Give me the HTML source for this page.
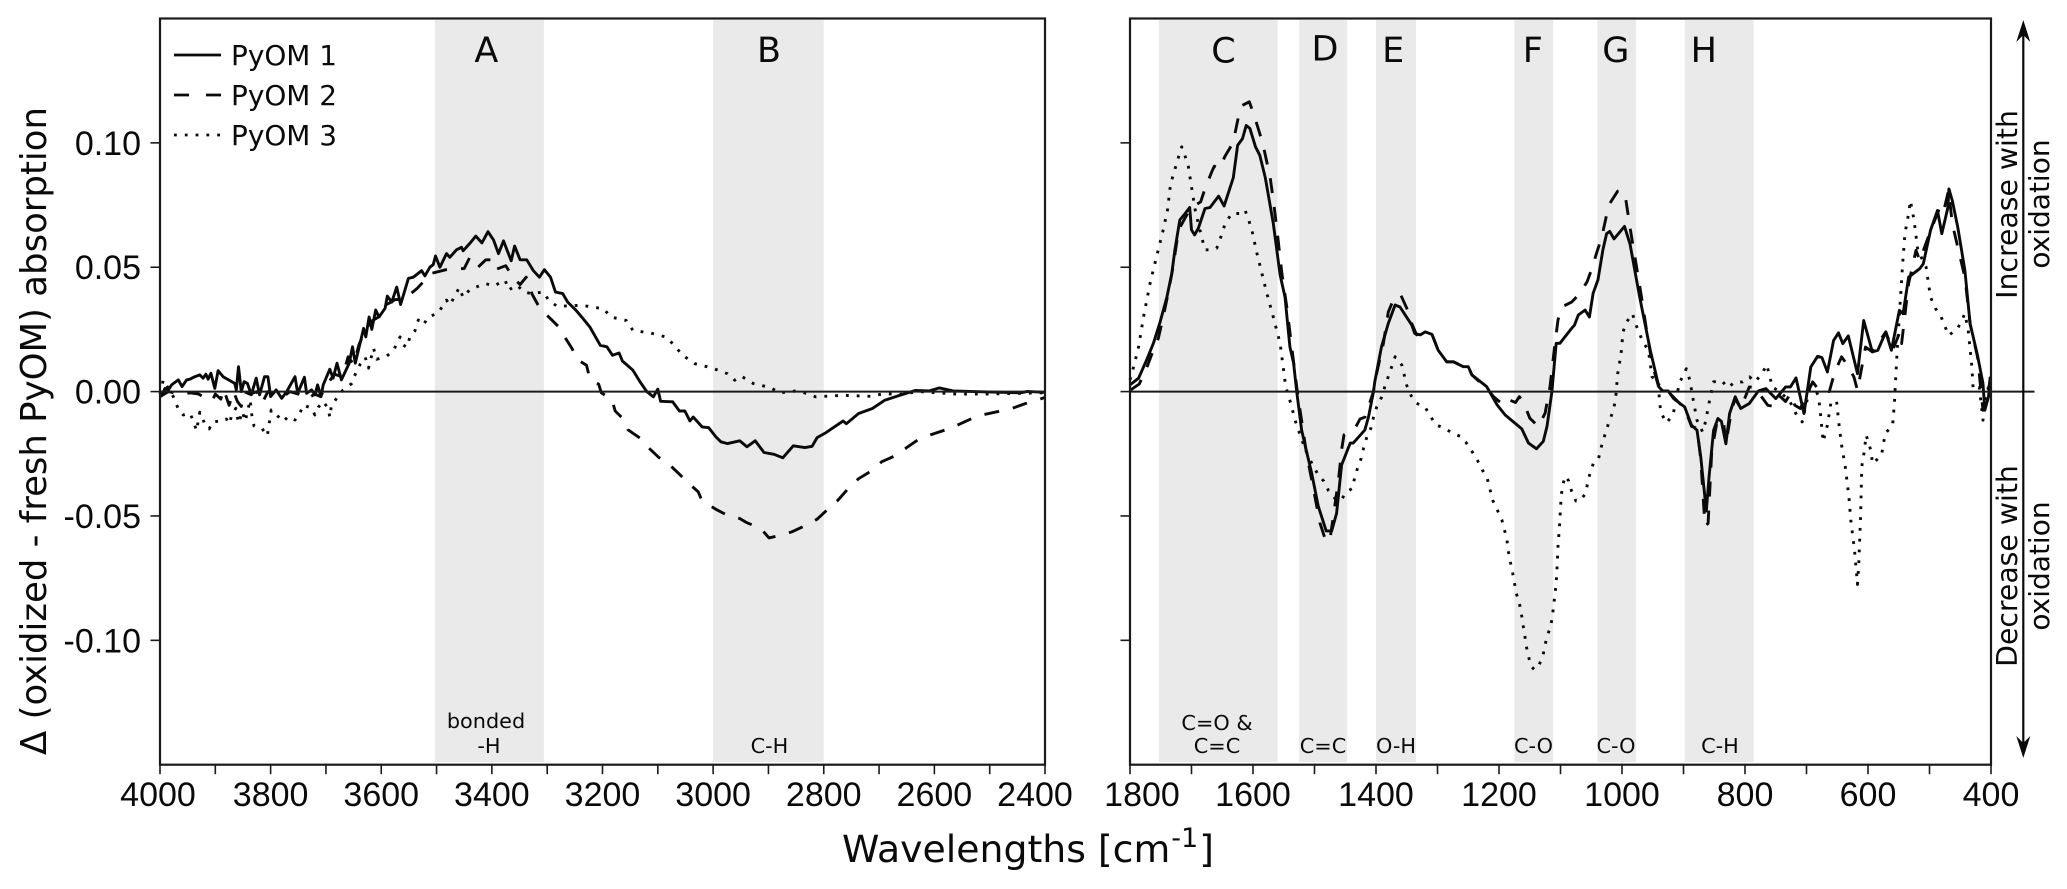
<!DOCTYPE html>
<html lang="en">
<head>
<meta charset="utf-8">
<title>PyOM oxidation difference spectra</title>
<style>
html,body{margin:0;padding:0;background:#fff;}
svg{display:block;}
text{fill:#0a0a0a;}
.dv{font-family:"DejaVu Sans","Liberation Sans",sans-serif;}
.ls{font-family:"Liberation Sans",sans-serif;}
</style>
</head>
<body>
<svg id="chart" xmlns="http://www.w3.org/2000/svg" width="2067" height="889" viewBox="0 0 2067 889">
  <g id="bands"></g>
  <g id="series"></g>
  <g id="axes"></g>

  <text class="dv" font-size="35.5" text-anchor="middle" transform="translate(46,431) rotate(-90)">Δ (oxidized - fresh PyOM) absorption</text>
  <text class="dv" font-size="37.8" x="842" y="862">Wavelengths [cm<tspan dy="-15" dx="1" font-size="27">-1</tspan><tspan dy="15" dx="1">]</tspan></text>

  <g>
    <line x1="174" x2="221" y1="55" y2="55" stroke="#0a0a0a" stroke-width="2.8"/>
    <text class="dv" font-size="27.9" x="231" y="65">PyOM 1</text>
    <line x1="174" x2="221" y1="95" y2="95" stroke="#0a0a0a" stroke-width="2.8" stroke-dasharray="15 17"/>
    <text class="dv" font-size="27.9" x="231" y="105">PyOM 2</text>
    <line x1="174" x2="221" y1="135" y2="135" stroke="#0a0a0a" stroke-width="2.8" stroke-dasharray="2.8 8"/>
    <text class="dv" font-size="27.9" x="231" y="145">PyOM 3</text>
  </g>

  <g>
    <line x1="2023.3" x2="2023.3" y1="34" y2="745" stroke="#0a0a0a" stroke-width="2.2"/>
    <polygon points="2023.3,20 2030.3,42 2023.3,35 2016.3,42" fill="#0a0a0a"/>
    <polygon points="2023.3,758 2030.3,736 2023.3,743 2016.3,736" fill="#0a0a0a"/>
    <text class="dv" font-size="28.3" text-anchor="middle" transform="translate(2017,204.5) rotate(-90)">Increase with</text>
    <text class="dv" font-size="28" text-anchor="middle" transform="translate(2049,204) rotate(-90)">oxidation</text>
    <text class="dv" font-size="28.3" text-anchor="middle" transform="translate(2017,566) rotate(-90)">Decrease with</text>
    <text class="dv" font-size="28" text-anchor="middle" transform="translate(2049,566) rotate(-90)">oxidation</text>
  </g>
</svg>

<script>
// ---- chart data (wavenumber in cm-1, absorption difference x 1000) ----
const yTickValues = [0.10, 0.05, 0, -0.05, -0.10];
const yTickLabels = ["0.10", "0.05", "0.00", "-0.05", "-0.10"];
const leftXTickLabels = [4000, 3800, 3600, 3400, 3200, 3000, 2800, 2600, 2400];
const leftXMinorTicks = [3900, 3700, 3500, 3300, 3100, 2900, 2700, 2500];
const rightXTickLabels = [1800, 1600, 1400, 1200, 1000, 800, 600, 400];
const rightXMinorTicks = [1700, 1500, 1300, 1100, 900, 700, 500];

const leftBandStart = [3503, 3000];
const leftBandEnd = [3306, 2800];
const rightBandStart = [1753, 1525, 1400, 1175, 1040, 898];
const rightBandEnd = [1560, 1447, 1335, 1112, 977, 786];

const leftPyom1Wn = [3998,3991,3985,3979,3967,3960,3952,3946,3937,3928,3922,3917,3913,3908,3901,3895,3886,3865,3862,3858,3853,3848,3842,3835,3826,3820,3811,3805,3800,3790,3780,3771,3756,3751,3739,3735,3726,3720,3715,3709,3705,3693,3687,3680,3672,3658,3652,3647,3632,3628,3622,3617,3610,3604,3593,3589,3581,3572,3565,3551,3542,3527,3521,3512,3506,3502,3494,3482,3476,3464,3455,3452,3440,3429,3418,3407,3397,3388,3379,3365,3359,3349,3337,3325,3314,3305,3294,3285,3272,3263,3248,3235,3223,3204,3192,3182,3170,3164,3145,3132,3120,3108,3100,3095,3073,3061,3051,3042,3036,3020,3008,2995,2986,2974,2952,2939,2924,2908,2890,2874,2855,2834,2821,2812,2796,2765,2759,2737,2712,2690,2665,2634,2609,2591,2566,2529,2479,2444,2432,2401];
const leftPyom1Val = [-2,1.3,0.7,2.7,4.7,2,4.7,5,6,6.7,5.4,7,5,7.4,1.3,8.4,6,3.3,0.7,10,0,4,3.3,-1.3,5.4,-1.3,6,6,-2,0.7,-2.7,0,6,-0.7,5.8,-0.7,0.7,-1.3,2.7,-2,2.7,9,5.4,11.4,4.7,11.4,18,11.4,25.4,22,30,25,32.8,30,33.5,38.4,36,42,35,45.5,46,48.6,46.5,50,51,54.5,50,55.5,54,57,58,56.6,59.6,62.5,59.8,64.3,61,55.5,60.6,52.6,58.5,53,53,48.6,46,49,46,40,39.4,36,32.7,29.3,26,18.6,18,14.6,15.5,12.3,8.6,3.9,0,-2.1,1,-3.9,-4.1,-7.8,-7.8,-11.8,-10.2,-14.2,-14.5,-18.2,-20.2,-20.9,-19.8,-22.2,-19.8,-24.5,-25.2,-26.6,-21.8,-22.5,-22,-18.5,-16.5,-11.8,-12.9,-8.8,-6.8,-3.5,-1.7,0.5,0.3,1.5,0.3,0,-0.3,-0.5,0.1,-0.3];

const leftPyom2Wn = [4000,3985,3975,3958,3945,3930,3915,3905,3900,3890,3885,3875,3867,3860,3853,3848,3838,3825,3815,3805,3795,3780,3765,3750,3735,3720,3710,3700,3685,3670,3660,3650,3640,3630,3620,3605,3590,3575,3560,3535,3510,3483,3450,3440,3425,3411,3400,3394,3375,3362,3349,3338,3327,3317,3307,3294,3279,3269,3255,3246,3229,3223,3207,3202,3183,3177,3160,3154,3131,3117,3098,3081,3061,3045,3027,3020,2995,2977,2952,2939,2914,2899,2877,2858,2832,2812,2791,2774,2753,2737,2714,2695,2669,2650,2628,2606,2579,2559,2532,2510,2482,2460,2435,2410,2401];
const leftPyom2Val = [-2,0,-0.5,-1,-0.5,-1,-3,-3.5,-1,-3,1,-5.5,0,-4,-6,0,-1,0,-4.5,0,-1,-2.5,0,-1,-3,-1,-2,2,7,6,14,11,19,24,28,30,35,37,37,41.5,47.5,49,49.5,54,50,53,53,49,50.6,46,43,46,39,35,32,29.3,26,22.2,17.3,12.9,10.6,5.2,3,-0.5,-3.2,-7.8,-11.5,-15.3,-18.9,-22.5,-26.5,-28.9,-33.2,-36.7,-40.3,-44,-47.3,-49.4,-51,-52.7,-55,-58.8,-57.7,-56.4,-53.7,-51.3,-47,-43.6,-38.3,-35,-31.9,-28.2,-25.6,-22.5,-19.1,-17.3,-15.3,-13.5,-10.8,-9.2,-7.9,-6.8,-4.8,-3.1,-2.4];

const leftPyom3Wn = [4000,3994,3976,3967,3958,3946,3940,3934,3928,3919,3911,3904,3888,3880,3875,3870,3863,3858,3851,3846,3837,3834,3830,3816,3806,3799,3785,3777,3768,3756,3747,3741,3726,3720,3714,3705,3696,3693,3690,3678,3670,3653,3649,3638,3629,3623,3614,3608,3590,3578,3566,3560,3554,3548,3539,3533,3524,3515,3497,3482,3476,3467,3459,3452,3440,3412,3397,3376,3370,3355,3340,3328,3307,3297,3282,3238,3198,3185,3157,3145,3114,3086,3073,3055,3033,3002,2974,2961,2949,2927,2896,2880,2849,2830,2815,2765,2715,2690,2665,2628,2560,2510,2401];
const leftPyom3Val = [-1,4.7,-2,-7,-9.4,-8.7,-11.6,-15.7,-8.3,-13,-15,-12,-12,-11,-13,-9.4,-6.7,-12.7,-8,-12,-3.3,-9.4,-13.8,-14.7,-17.8,-7.4,-10.3,-12,-10,-11.4,-8.7,-5.4,-6.7,-9.4,-6.3,-4,-6.7,-10.3,-5.4,-2,0.4,3.3,6,11,13.8,9.4,17.4,13,14.3,16.5,22,18.7,17.8,22,24.5,28.8,26.8,29.9,31.7,36.8,34.8,38.4,41.8,37.9,41,43.5,42.4,44.8,40.8,42.8,39.8,39.5,40,36.7,34.3,34.7,33.3,30,28.6,24.6,23.6,22,19.3,14.6,11.2,9.5,7.2,4.6,6.2,3.2,1.6,-0.5,0.3,-0.8,-2.1,-1.5,-1.9,-0.8,-1.2,0,-1,-1,-0.5];

const rightPyom1Wn = [1800,1786,1773,1762,1751,1740,1732,1727,1719,1711,1703,1700,1695,1689,1678,1670,1656,1647,1632,1625,1617,1611,1605,1596,1589,1580,1567,1556,1548,1540,1534,1529,1521,1513,1504.5,1494,1481,1472,1464,1456,1442,1437,1418,1412,1404,1402,1391,1380,1369,1361,1342,1337,1328,1320,1309,1299,1285,1274,1258,1250,1244,1220,1203,1190,1163,1152,1139,1128,1122,1114,1107,1101,1082,1077,1071,1060,1053,1047,1039,1031,1025,1020,1013,996,987,972,954,940,934,925,916,898,887,878,872,863,858.4,851,844,838.4,831,825,816,807,793,778,766,750,734,726,717,704,693,682,675,666,656,648,641,632,617,607,593,584,571,562,549,543,534,516,510,498.4,487,480,470,468.4,463,454,442.5,434,422,413,410,404,401];
const rightPyom1Val = [2.7,5.4,12.7,19.4,28,38,47.5,57,69,71.4,74,65,63,65.6,73.6,74,78.6,74.6,86,99,101.7,107,105.8,98.4,95,86,67.6,46.9,38,18,11.4,0,-15.4,-24,-32.8,-46,-56,-56,-48.9,-29.5,-20.7,-20.7,-15.4,-10,0,4,18,27.4,34.8,34,26.8,23.4,22.8,24,23,16.7,12,12,10,10,6.7,2,-5.4,-9.4,-15,-20.7,-23,-20,-14,0,19.4,19.4,25.4,26.8,30.8,32.8,30,39.5,45,57,63.5,64.4,61.4,66.4,59.4,39,16.6,1.9,0.3,0.3,-2.8,-6.2,-13.5,-15.5,-26,-48,-34,-15.5,-10.8,-12,-21,-8.8,-2.1,-6.8,-4.8,0.3,1.2,-2.8,1.9,1.9,5.5,-8.8,9.9,14.2,13.7,7.9,20.6,23.6,19.3,22.4,7.2,28.6,16,16.6,24,16.6,32.7,31.3,46,49.4,51.4,64.8,72.8,63.5,74,81.5,76.8,66,48.7,27.3,14.6,3.2,-7.5,-2.1,5.9];

const rightPyom2Wn = [1799,1785,1773,1765,1754,1746,1738,1730,1721,1702,1685,1678,1667,1663,1654,1646,1635,1631,1624,1618,1606,1598,1589,1583,1572,1567,1561,1553,1545,1537,1529,1526,1513,1504.5,1491,1481,1474,1461,1456,1452,1434,1426,1418,1404,1402,1388,1380,1372,1360,1350,1342,1334,1326,1309,1299,1285,1274,1258,1250,1244,1220,1209,1196,1190,1173,1167,1160,1150,1136,1125,1117,1109,1104,1098,1082,1071,1057,1049,1041,1033,1025,1022,1007,1001,994,987,978,969,960,951,942,925,898,887,878,872,865,860,854,845,835,831,822,816,807,793,784,763,754,745,734,726,719,710,690,678,663,657,648,643,635,623,617,604,593,584,571,560,548,545.4,534,522,516,498,484,478,469,463,454,442.5,434,422,413,409,404,401];
const rightPyom2Val = [0.7,3,9.4,14.7,21.4,30,39.5,50,65,73.6,76.3,81.6,88.4,90.6,89.7,94.4,99,101.7,110,115,116.5,111,103.7,98.4,86,77,65,47.5,34,18,2,-3.3,-24.8,-35.5,-52.9,-60.5,-58,-35.5,-23.4,-17.4,-14.7,-11,-10.3,0,4,19.4,32,36.8,39,33.5,27.4,22.8,23.4,23,16.7,12,12,10,10,6.7,1.3,-2,-4.7,-2.7,-4.4,-2,-4.4,-10.7,-14,-8.7,2,19.4,28.8,34,36,38.8,44,49.5,56,62,71,74.8,80.6,81,77.5,66,52.7,39,24.6,11.2,3.2,0,-6.8,-14,-14.7,-27,-54,-53,-23.6,-11.5,-12,-21,-7.5,-2.8,-6.8,1.9,1.6,-5.5,-5.9,-1.5,-4,-0.8,-5.5,-6.8,3.9,0,0,5.2,11.2,14,11.2,5.9,0.5,17.9,16,19.3,24,16.6,24,19.3,43.4,56.8,52.7,64.8,73.5,71.5,80.9,67.5,58,46,27.3,14,-7.5,-4.8,0.5,5.9];

const rightPyom3Wn = [1800,1794,1786,1778,1767,1757,1751,1746,1739,1735,1731,1721,1716,1710,1705,1700,1694,1689,1683,1678,1670,1659,1651,1646,1635,1621,1613,1607,1602,1594,1586,1578,1567,1556,1547,1542,1537,1533,1528,1522,1515,1503,1494,1485,1477,1466.5,1457,1449,1438,1435,1430,1424,1420,1415,1408,1404,1399,1391,1386,1369,1358,1350,1343,1334,1320,1312,1303,1290,1277,1263,1253.5,1244,1235,1227,1219,1214.5,1210,1203,1195.5,1191,1187,1185,1182,1178,1175,1172,1167,1163.5,1161,1158,1156,1152,1148,1142.4,1136,1129,1125.6,1122,1116,1113,1111,1109,1107,1106,1105,1104.5,1103.4,1102,1100,1099,1097,1092.5,1086.6,1082,1075,1068,1060,1056,1052,1046.5,1038,1034,1029,1024,1018,1013,1010,1007,1001.4,998.4,992.5,983,978,966,957,951.3,942,937,928,917,907,895.5,889.6,884,878,869,864,857,851.4,838.4,828,816,804,792.5,784,772,765,760,756,745.5,728,716,707,692.5,681,678,673,666,660,651,647,643,637,631,628,622,617,615,612,610,607,603,595.5,592.5,578,572,560,557,555.5,552.5,548.4,544,540,534,531,525,519,505.5,498.4,490,481,469,454.3,442.5,437,431,429,419,413,407,401];
const rightPyom3Val = [4.7,10,18,30,44,54,60,65,73,81.7,86,94.4,98.4,94.4,90.4,82.3,73,67.6,61.6,57,57,57.6,63,67,71.6,71.6,73,69,65,56,48,40,30,19.4,2.3,-2,-6,-10.3,-14.3,-18.3,-23.4,-29.5,-33.5,-36,-39.9,-43,-43.8,-40.6,-38.8,-34.8,-30.8,-26.8,-22.5,-18.3,-14.5,-10.3,-6.3,-2.3,1.7,14,10.7,2.4,-1.6,-4.7,-6.3,-9.6,-13.4,-14.5,-16.5,-18,-20.5,-24,-27.7,-31.5,-35,-39.5,-43.8,-47.5,-51.5,-55.6,-59.8,-64,-68,-72.6,-76.7,-81,-85,-89.4,-93.7,-98,-102,-106.4,-110.4,-111.8,-110.4,-106.7,-102.4,-98.4,-94.4,-90,-85.7,-81.4,-77,-72.7,-68.5,-64,-59.8,-55.6,-46.9,-42.6,-38.4,-34,-35.9,-40,-44,-43.8,-41.2,-37,-32.8,-28.8,-26.8,-22.5,-18.3,-14.3,-10.3,-6.3,-2,7.2,15.3,24,28,31.3,27.3,20,16.6,5.9,4.5,-8.2,-12.6,-9.5,3.2,9.2,4.5,-3.5,-11.5,-16.2,-12,-2.8,3.9,4.5,1.6,3.9,3.9,5.9,3.9,7.2,10.8,6.6,1.9,0.3,-3.5,-9.5,-12.2,3.9,-1.5,-6.8,-20.2,-13.5,-4,-4,-13.5,-21.6,-30,-42.3,-51.7,-63.7,-77.5,-69,-50,-30,-25.6,-17.5,-23.6,-29,-25.6,-16.9,-13.5,-4.8,3.2,16.6,32.7,50,63.5,71.5,76.8,68.8,56.8,50,38,33.3,30,22.6,25.3,31.3,24.6,9.9,0.8,1.6,-11.5,-1.5,5.9];

// ---- axis functions ----
const plotTop = 18.5, plotBottom = 764.7;
const leftX0 = 160, leftX1 = 1045, rightX0 = 1130, rightX1 = 1991;
function xLeft(wn) { return leftX0 + (4000 - wn) / 1600 * (leftX1 - leftX0); }
function xRight(wn) { return rightX0 + (1800 - wn) / 1400 * (rightX1 - rightX0); }
function yScale(v) { return (plotTop + plotBottom) / 2 - v / 0.15 * (plotBottom - plotTop) / 2; }
function yMilli(v) { return yScale(v / 1000); }

const NS = "http://www.w3.org/2000/svg";
const bandsLayer = document.getElementById("bands");
const seriesLayer = document.getElementById("series");
const axesLayer = document.getElementById("axes");

function make(tag, parent, attrs) {
  const el = document.createElementNS(NS, tag);
  for (const k in attrs) el.setAttribute(k, attrs[k]);
  parent.appendChild(el);
  return el;
}

// ---- shaded bands ----
function drawBands(starts, ends, xf) {
  starts.forEach(function (s, i) {
    const x0 = xf(s), x1 = xf(ends[i]);
    const r = make("rect", bandsLayer, { x: x0, y: 20, width: x1 - x0, height: 742, fill: "#eaeaea" });
    
    
  });
}
drawBands(leftBandStart, leftBandEnd, xLeft);
drawBands(rightBandStart, rightBandEnd, xRight);

// ---- band letters and group labels ----
const bandLetters = ["A", "B", "C", "D", "E", "F", "G", "H"];
const bandLetterBaselines = [62, 62, 62.7, 60.7, 62, 62, 62, 62];
const bandLetterWn = [3410, 2899, 1648, 1483, 1372, 1145, 1010, 867];
bandLetters.forEach(function (t, i) {
  const x = i < 2 ? xLeft(bandLetterWn[i]) : xRight(bandLetterWn[i]);
  const el = make("text", bandsLayer, { x: x, y: bandLetterBaselines[i], "font-size": 35, "text-anchor": "middle", "class": "dv" });
  
  
  el.textContent = t;
});

const groupLabels = ["bonded", "-H", "C-H", "C=O &", "C=C", "C=C", "O-H", "C-O", "C-O", "C-H"];
const groupLabelCentres = [486, 489, 769.5, 1217, 1217, 1323, 1396, 1533.5, 1616, 1720];
const groupLabelBaselines = [728, 753, 753, 730, 753, 753, 753, 753, 753, 753];
groupLabels.forEach(function (t, i) {
  const el = make("text", bandsLayer, { x: groupLabelCentres[i], y: groupLabelBaselines[i], "font-size": 20.8, "text-anchor": "middle", "class": "dv" });
  
  
  el.textContent = t;
});

// ---- series ----
function drawSeries(wn, val, xf, dash, name) {
  let d = "";
  wn.forEach(function (w, i) {
    d += (i ? "L" : "M") + xf(w).toFixed(1) + " " + yMilli(val[i]).toFixed(1);
  });
  const attrs = { d: d, fill: "none", stroke: "#0a0a0a", "stroke-width": 2.9, "stroke-linejoin": "round" };
  if (dash) attrs["stroke-dasharray"] = dash;
  const p = make("path", seriesLayer, attrs);
  
  
}
drawSeries(leftPyom1Wn, leftPyom1Val, xLeft, null, "left-line-pyom-1");
drawSeries(leftPyom2Wn, leftPyom2Val, xLeft, "15 14", "left-line-pyom-2");
drawSeries(leftPyom3Wn, leftPyom3Val, xLeft, "2.8 8", "left-line-pyom-3");
drawSeries(rightPyom1Wn, rightPyom1Val, xRight, null, "right-line-pyom-1");
drawSeries(rightPyom2Wn, rightPyom2Val, xRight, "15 14", "right-line-pyom-2");
drawSeries(rightPyom3Wn, rightPyom3Val, xRight, "2.8 8", "right-line-pyom-3");

// ---- axes ----
function drawFrame(x0, x1, name) {
  const r = make("rect", axesLayer, { x: x0, y: plotTop, width: x1 - x0, height: plotBottom - plotTop, fill: "none", stroke: "#1a1a1a", "stroke-width": 2.2 });
  
  
}
drawFrame(leftX0, leftX1, "left-plot-frame");
drawFrame(rightX0, rightX1, "right-plot-frame");

function drawZero(x0, x1, name) {
  const l = make("line", axesLayer, { x1: x0, x2: x1, y1: yScale(0), y2: yScale(0), stroke: "#1a1a1a", "stroke-width": 2 });
  
  
}
drawZero(leftX0, leftX1, "left-zero-line");
drawZero(rightX0, 2034.5, "right-zero-line");

function drawYTicks(x0, withLabels) {
  yTickValues.forEach(function (v, i) {
    const y = yScale(v);
    const t = make("line", axesLayer, { x1: x0 - 9.5, x2: x0, y1: y, y2: y, stroke: "#1a1a1a", "stroke-width": 1.6 });
    
    
    if (withLabels) {
      const el = make("text", axesLayer, { x: 141, y: y + 12, "font-size": 34, "text-anchor": "end", "class": "ls" });
      
      
      el.textContent = yTickLabels[i];
    }
  });
}
drawYTicks(leftX0, true);
drawYTicks(rightX0, false);

function drawXTicks(major, minor, xf) {
  major.concat(minor).forEach(function (w) {
    const x = xf(w);
    const t = make("line", axesLayer, { x1: x, x2: x, y1: plotBottom, y2: plotBottom + 9.5, stroke: "#1a1a1a", "stroke-width": 1.6 });
    
    
  });
  major.forEach(function (w) {
    let x = xf(w);
    if (w === 1800) x += 12;
    if (w === 2400) x -= 10;
    if (w === 4000) x -= 2;
    const el = make("text", axesLayer, { x: x, y: 806, "font-size": 34, "text-anchor": "middle", "class": "ls" });
    
    
    el.textContent = w;
  });
}
drawXTicks(leftXTickLabels, leftXMinorTicks, xLeft);
drawXTicks(rightXTickLabels, rightXMinorTicks, xRight);
</script>
</body>
</html>
